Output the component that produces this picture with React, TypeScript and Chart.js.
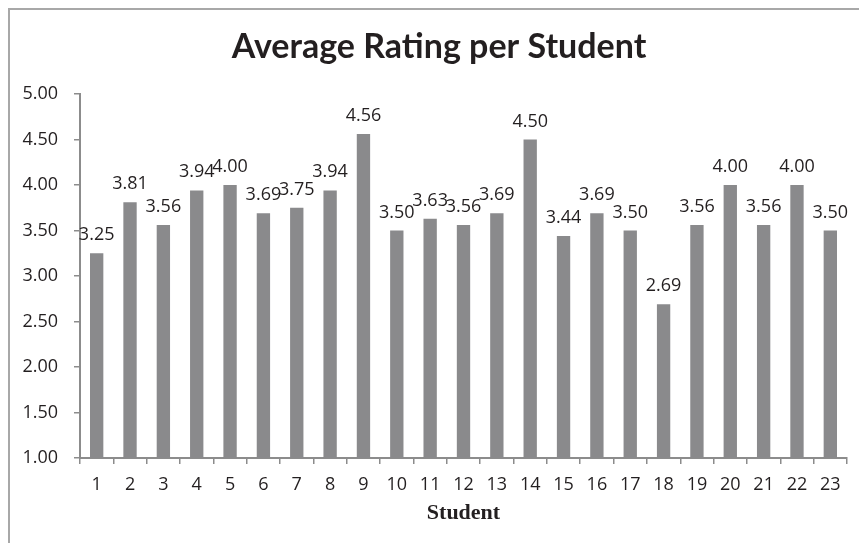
import React, { useEffect, useRef } from "react";
import { Chart, registerables } from "chart.js";

Chart.register(...registerables);

const students: string[] = [
  "1", "2", "3", "4", "5", "6", "7", "8", "9", "10", "11", "12",
  "13", "14", "15", "16", "17", "18", "19", "20", "21", "22", "23",
];
const ratings: number[] = [
  3.25, 3.81, 3.56, 3.94, 4.0, 3.69, 3.75, 3.94, 4.56, 3.5, 3.63, 3.56,
  3.69, 4.5, 3.44, 3.69, 3.5, 2.69, 3.56, 4.0, 3.56, 4.0, 3.5,
];
const titleText = "Average Rating per Student";
const xTitle = "Student";
const yMin = 1;
const yMax = 5;
const yStep = 0.5;

const TEXT = "#231f20";
const AXIS = "#8c8c8c";
const BAR = "#8a8a8c";
const TICK_FONT = "'Open Sans', 'Noto Sans', sans-serif";

const valueLabels = {
  id: "valueLabels",
  afterDatasetsDraw(chart: any) {
    const ctx = chart.ctx;
    const meta = chart.getDatasetMeta(0);
    const data = chart.data.datasets[0].data as number[];
    ctx.save();
    ctx.fillStyle = TEXT;
    ctx.font = `18px ${TICK_FONT}`;
    ctx.textAlign = "center";
    ctx.textBaseline = "alphabetic";
    meta.data.forEach((bar: any, i: number) => {
      ctx.fillText(data[i].toFixed(2), bar.x, bar.y - 13);
    });
    ctx.restore();
  },
};

const chartTitle = {
  id: "chartTitle",
  afterDraw(chart: any) {
    const ctx = chart.ctx;
    ctx.save();
    ctx.fillStyle = TEXT;
    ctx.font = "bold 34px Lato, 'Open Sans', sans-serif";
    ctx.textAlign = "center";
    ctx.textBaseline = "middle";
    ctx.fillText(titleText, 429, 37);
    ctx.restore();
  },
};

export default function App() {
  const ref = useRef<HTMLCanvasElement | null>(null);

  useEffect(() => {
    if (!ref.current) return;
    const chart = new Chart(ref.current, {
      type: "bar",
      data: {
        labels: students,
        datasets: [
          {
            data: ratings,
            backgroundColor: BAR,
            borderWidth: 0,
            barPercentage: 0.4,
            categoryPercentage: 1,
          },
        ],
      },
      plugins: [valueLabels, chartTitle],
      options: {
        animation: false,
        responsive: false,
        maintainAspectRatio: false,
        layout: { padding: { left: 0, right: 12, top: 84, bottom: 0 } },
        plugins: {
          legend: { display: false },
          tooltip: { enabled: false },
          title: { display: false },
        },
        scales: {
          x: {
            grid: {
              display: true,
              drawOnChartArea: false,
              drawTicks: true,
              tickLength: 6,
              color: AXIS,
              lineWidth: 1.5,
            },
            border: { display: true, color: AXIS, width: 2 },
            ticks: {
              color: TEXT,
              font: { family: TICK_FONT, size: 18 },
              padding: 10,
              maxRotation: 0,
              autoSkip: false,
            },
            title: {
              display: true,
              text: xTitle,
              color: TEXT,
              font: { family: "'Liberation Serif', serif", size: 22, weight: "bold" },
              padding: { top: 0, bottom: 16 },
            },
            afterFit: (scale: any) => {
              scale.height = 85;
            },
          },
          y: {
            min: yMin,
            max: yMax,
            grid: {
              display: true,
              drawOnChartArea: false,
              drawTicks: true,
              tickLength: 6,
              color: AXIS,
              lineWidth: 1.5,
            },
            border: { display: true, color: AXIS, width: 2 },
            ticks: {
              stepSize: yStep,
              color: TEXT,
              font: { family: TICK_FONT, size: 18 },
              padding: 16,
              callback: (v: any) => Number(v).toFixed(2),
            },
            afterFit: (scale: any) => {
              scale.width = 70;
            },
          },
        },
      },
    });
    return () => chart.destroy();
  }, []);

  return (
    <div
      style={{
        position: "fixed",
        left: 8,
        top: 8,
        width: 851,
        height: 535,
        borderLeft: "2px solid #a8a8a8",
        borderTop: "2px solid #a8a8a8",
        background: "#fff",
        boxSizing: "border-box",
      }}
    >
      <canvas ref={ref} width={849} height={533} style={{ display: "block" }} />
    </div>
  );
}
